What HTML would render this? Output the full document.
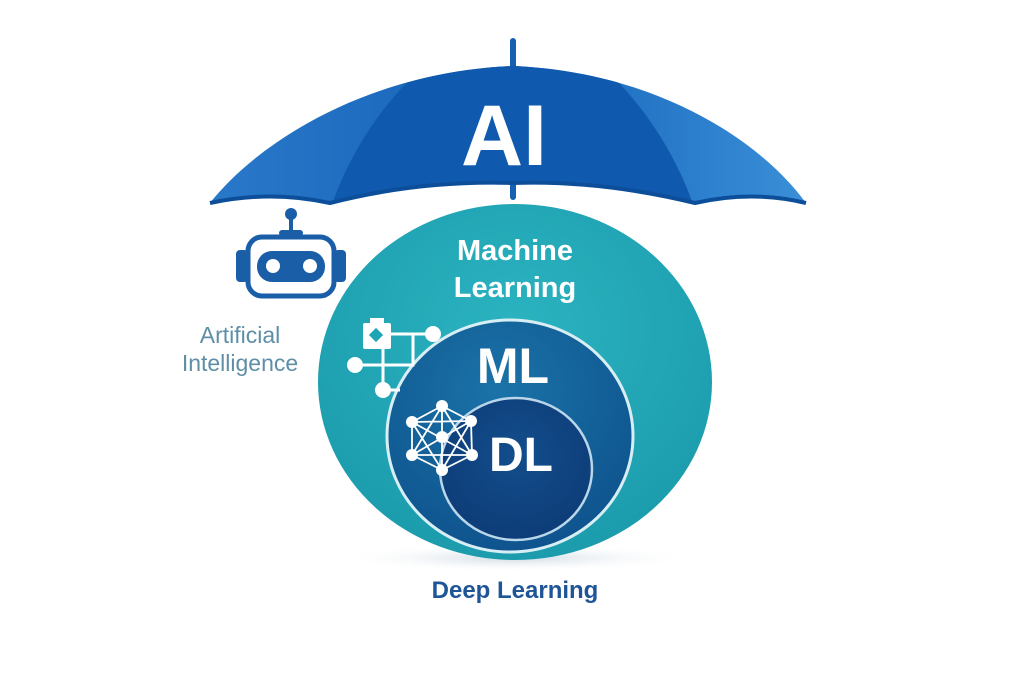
<!DOCTYPE html>
<html><head><meta charset="utf-8"><style>
html,body{margin:0;padding:0;background:#fff;}
svg{display:block;}
text{font-family:"Liberation Sans",sans-serif;}
</style></head><body>
<svg width="1024" height="683" viewBox="0 0 1024 683" xmlns="http://www.w3.org/2000/svg">
<defs>
<radialGradient id="gTeal" cx="0.5" cy="0.35" r="0.7">
<stop offset="0" stop-color="#2bb3c0"/><stop offset="1" stop-color="#1a9aab"/></radialGradient>
<radialGradient id="gML" cx="0.45" cy="0.3" r="0.8">
<stop offset="0" stop-color="#1a73a8"/><stop offset="1" stop-color="#0d4f8a"/></radialGradient>
<radialGradient id="gDL" cx="0.5" cy="0.4" r="0.7">
<stop offset="0" stop-color="#134d8c"/><stop offset="1" stop-color="#0c3a74"/></radialGradient>
<linearGradient id="gUmb" x1="0" y1="0" x2="1" y2="0">
<stop offset="0" stop-color="#2a78c9"/><stop offset="0.5" stop-color="#1463b8"/><stop offset="1" stop-color="#3a8fd8"/></linearGradient>
<radialGradient id="shadow" cx="0.5" cy="0.5" r="0.5">
<stop offset="0" stop-color="#9fb5c8" stop-opacity="0.5"/><stop offset="1" stop-color="#fff" stop-opacity="0"/></radialGradient>
<clipPath id="canopy"><path d="M210,203 C260,140 370,72 513,66 C656,72 760,140 806,203 Q752,190 695,203 Q600,180 513,183 Q420,180 330,203 Q270,190 210,203 Z"/></clipPath>
</defs>
<rect x="510" y="38" width="6" height="32" rx="3" fill="#1560b0"/>
<rect x="510" y="180" width="6" height="20" rx="3" fill="#1560b0"/>
<path d="M210,203 C260,140 370,72 513,66 C656,72 760,140 806,203 Q752,190 695,203 Q600,180 513,183 Q420,180 330,203 Q270,190 210,203 Z" fill="url(#gUmb)"/>
<path clip-path="url(#canopy)" d="M330,210 C350,150 385,100 430,60 L596,60 C640,100 675,150 695,210 Z" fill="#0f5aae"/>
<path d="M210,203 Q270,190 330,203 Q420,180 513,183 Q600,180 695,203 Q752,190 806,203" fill="none" stroke="#0d4e9a" stroke-width="4"/>
<text x="504" y="165" font-size="86" font-weight="bold" fill="#fff" text-anchor="middle">AI</text>
<ellipse cx="515" cy="558" rx="180" ry="14" fill="url(#shadow)"/>
<ellipse cx="515" cy="382" rx="197" ry="178" fill="url(#gTeal)"/>
<ellipse cx="510" cy="436" rx="123" ry="116" fill="url(#gML)" stroke="#d8eef5" stroke-width="3"/>
<ellipse cx="516" cy="469" rx="76" ry="71" fill="url(#gDL)" stroke="#b9d6ea" stroke-width="2.5"/>
<text x="515" y="260" font-size="29" font-weight="bold" fill="#fff" text-anchor="middle">Machine</text>
<text x="515" y="297" font-size="29" font-weight="bold" fill="#fff" text-anchor="middle">Learning</text>
<text x="513" y="383" font-size="50" font-weight="bold" fill="#fff" text-anchor="middle">ML</text>
<text x="521" y="471" font-size="48" font-weight="bold" fill="#fff" text-anchor="middle">DL</text>
<text x="515" y="598" font-size="24" font-weight="bold" fill="#1f5597" text-anchor="middle">Deep Learning</text>
<text x="240" y="343" font-size="23" fill="#5e8fa6" text-anchor="middle">Artificial</text>
<text x="240" y="371" font-size="23" fill="#5e8fa6" text-anchor="middle">Intelligence</text>
<g fill="#1a5ea8">
<circle cx="291" cy="214" r="6"/>
<rect x="289" y="214" width="4" height="20"/>
<rect x="279" y="230" width="24" height="6" rx="3"/>
<rect x="236" y="250" width="12" height="32" rx="4"/>
<rect x="334" y="250" width="12" height="32" rx="4"/>
</g>
<rect x="248" y="237" width="86" height="59" rx="14" fill="#fff" stroke="#1a5ea8" stroke-width="5"/>
<rect x="257" y="251" width="68" height="31" rx="15" fill="#1a5ea8"/>
<circle cx="273" cy="266" r="7" fill="#fff"/>
<circle cx="310" cy="266" r="7" fill="#fff"/>
<g stroke="#fff" stroke-width="3" fill="none">
<path d="M390,334 H433 M383,348 V390 M355,365 H413 V334 M383,390 H400"/>
</g>
<g fill="#fff">
<rect x="363" y="323" width="28" height="26" rx="2"/>
<rect x="370" y="318" width="14" height="6"/>
<circle cx="433" cy="334" r="8"/>
<circle cx="355" cy="365" r="8"/>
<circle cx="383" cy="390" r="8"/>
</g>
<rect x="371" y="330" width="10" height="10" transform="rotate(45 376 335)" fill="#1fa5b4"/>
<g stroke="#fff" stroke-width="1.8">
<path d="M412,422 L442,406 L471,421 L472,455 L442,470 L412,455 Z" fill="none"/>
<path d="M412,422 L472,455 M471,421 L412,455 M442,406 L442,470 M412,422 L442,470 M471,421 L442,470 M412,455 L442,406 M472,455 L442,406 M412,422 L471,421 M412,455 L472,455"/>
</g>
<g fill="#fff">
<circle cx="412" cy="422" r="6"/><circle cx="442" cy="406" r="6"/><circle cx="471" cy="421" r="6"/>
<circle cx="412" cy="455" r="6"/><circle cx="442" cy="437" r="6"/><circle cx="472" cy="455" r="6"/>
<circle cx="442" cy="470" r="6"/>
</g>
</svg>
</body></html>
